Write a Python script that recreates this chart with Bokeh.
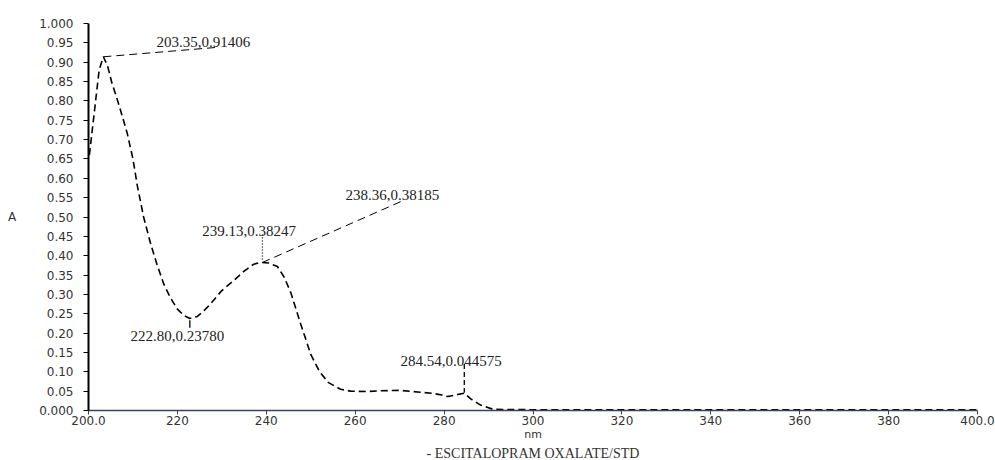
from bokeh.plotting import figure
from bokeh.models import FixedTicker, Title, ColumnDataSource
from bokeh.core.properties import value
from bokeh.embed import file_html
from bokeh.resources import INLINE

# Spectrum (wavelength nm, absorbance)
wavelength = [200.2, 200.8, 201.6, 202.4, 203.35, 204.3, 205.3, 206.3, 207.2, 208.7, 210.0,
              211.0, 212.4, 214.0, 215.5, 217.0, 218.5, 220.0, 221.5, 222.8, 224.5, 226.0,
              227.4, 230.0, 232.6, 235.0, 237.2, 238.36, 239.13, 240.5, 242.5, 244.0, 245.5,
              247.7, 250.0, 252.0, 254.0, 256.7, 259.0, 262.7, 266.0, 270.2, 274.0, 277.6,
              279.5, 280.8, 282.5, 284.54, 286.0, 288.2, 291.0, 300.0, 320.0, 340.0, 360.0,
              380.0, 400.0]
absorbance = [0.66, 0.72, 0.80, 0.88, 0.91406, 0.89, 0.845, 0.81, 0.776, 0.717, 0.65,
              0.58, 0.50, 0.43, 0.374, 0.325, 0.29, 0.262, 0.245, 0.2378, 0.243, 0.258,
              0.275, 0.31, 0.335, 0.36, 0.378, 0.38185, 0.38247, 0.381, 0.372, 0.345, 0.305,
              0.225, 0.145, 0.10, 0.072, 0.055, 0.050, 0.049, 0.051, 0.052, 0.048, 0.044,
              0.040, 0.036, 0.040, 0.044575, 0.030, 0.014, 0.003, 0.002, 0.002, 0.002, 0.002,
              0.002, 0.002]

# Peak / valley annotations: (label, text x, text y)
ann_labels = ["203.35,0.91406", "238.36,0.38185", "239.13,0.38247", "222.80,0.23780", "284.54,0.044575"]
ann_text_x = [215.3, 257.8, 225.6, 209.45, 270.2]
ann_text_y = [0.951, 0.558, 0.463, 0.193, 0.1285]

# leader lines (dashed) and drop lines
lead_x = [[203.35, 228.6], [239.13, 270.9]]
lead_y = [[0.914, 0.938], [0.3825, 0.543]]
drop_x = [[239.13, 239.13], [222.8, 222.8], [284.54, 284.54]]
drop_y = [[0.455, 0.39], [0.233, 0.214], [0.12, 0.046]]
drop_dash = ["1 2", "solid", "5 3"]

x_ticks = [200, 220, 240, 260, 280, 300, 320, 340, 360, 380, 400]
x_tick_labels = ["200.0", "220", "240", "260", "280", "300", "320", "340", "360", "380", "400.0"]
y_ticks = [round(0.05 * i, 2) for i in range(21)]
y_tick_labels = ["0.000"] + ["%.2f" % v for v in y_ticks[1:-1]] + ["1.000"]

p = figure(width=995, height=460, output_backend="svg", toolbar_location=None,
           x_range=(200, 400), y_range=(0, 1.0),
           min_border_left=88, min_border_right=18, min_border_top=23, min_border_bottom=0)
p.outline_line_color = None
p.grid.visible = False
p.background_fill_color = "white"

p.line(wavelength, absorbance, line_color="black", line_width=1.6, line_dash="7 4")

p.multi_line(lead_x, lead_y, line_color="black", line_width=1.0, line_dash="8 5")
for xs, ys, d in zip(drop_x, drop_y, drop_dash):
    p.line(xs, ys, line_color="black", line_width=1.3, line_dash=d)

src = ColumnDataSource(dict(x=ann_text_x, y=ann_text_y, t=ann_labels))
p.text(x="x", y="y", text="t", source=src, text_font=value("Liberation Serif"),
       text_font_size="15px", text_color="#222222", text_baseline="alphabetic", text_align="left")

# axes
p.xaxis.ticker = FixedTicker(ticks=x_ticks)
p.xaxis.major_label_overrides = {t: l for t, l in zip(x_ticks, x_tick_labels)}
p.yaxis.ticker = FixedTicker(ticks=y_ticks)
p.yaxis.major_label_overrides = {t: l for t, l in zip(y_ticks, y_tick_labels)}
for ax in (p.xaxis, p.yaxis):
    ax.minor_tick_line_color = None
    ax.major_label_text_font = "DejaVu Sans"
    ax.major_label_text_font_size = "12px"
    ax.major_label_text_color = "#333333"
    ax.major_tick_in = 0
    ax.major_tick_out = 5
p.xaxis.major_tick_out = 4
p.xaxis.axis_line_color = "#34465a"
p.xaxis.axis_line_width = 1.5
p.xaxis.major_tick_line_color = "#34465a"
p.yaxis.axis_line_color = "black"
p.yaxis.axis_line_width = 2
p.yaxis.major_tick_line_color = "black"
p.xaxis.major_label_standoff = 1
p.yaxis.major_label_standoff = 10

p.xaxis.axis_label = "nm"
p.xaxis.axis_label_text_font = "DejaVu Sans"
p.xaxis.axis_label_text_font_style = "normal"
p.xaxis.axis_label_text_font_size = "11px"
p.xaxis.axis_label_text_color = "#333333"
p.xaxis.axis_label_standoff = 0

p.yaxis.axis_label = "A"
p.yaxis.axis_label_orientation = "horizontal"
p.yaxis.axis_label_text_font = "DejaVu Sans"
p.yaxis.axis_label_text_font_style = "normal"
p.yaxis.axis_label_text_font_size = "12px"
p.yaxis.axis_label_text_color = "#333333"
p.yaxis.axis_label_standoff = 20

p.add_layout(Title(text="- ESCITALOPRAM OXALATE/STD", align="center",
                   text_font="Liberation Serif", text_font_style="normal",
                   text_font_size="14px", text_color="#333333", standoff=0), "below")

open("out.html", "w").write(file_html(p, INLINE))
